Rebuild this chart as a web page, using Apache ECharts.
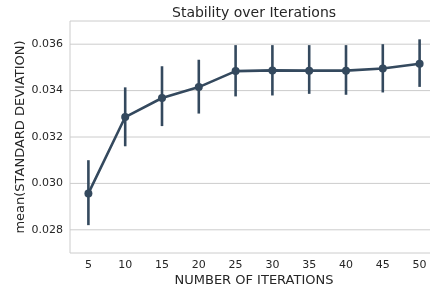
<!DOCTYPE html>
<html style="height: 100%">
    <head>
        <title>Stability over Iterations</title>
        <script type="text/javascript" src="https://fastly.jsdelivr.net/npm/echarts@6.0.0/dist/echarts.min.js"></script>
    </head>
    <body style="height: 100%; margin: 0">
        <div id="target" style="width: 430px; height: 289px"></div>

<script type="text/javascript">
// chart data
let iterations = ["5", "10", "15", "20", "25", "30", "35", "40", "45", "50"];
let meanStd = [0.02957, 0.03286, 0.03368, 0.03415, 0.03484, 0.03487, 0.03486, 0.03486, 0.03495, 0.03516];
let ciLow  = [0.02820, 0.03160, 0.03247, 0.03301, 0.03375, 0.03379, 0.03386, 0.03382, 0.03392, 0.03416];
let ciHigh = [0.03100, 0.03414, 0.03505, 0.03533, 0.03596, 0.03596, 0.03596, 0.03596, 0.03600, 0.03621];
let yTicks = [0.028, 0.030, 0.032, 0.034, 0.036];

let color = "#34495e";
let textColor = "#262626";
let font = "DejaVu Sans";

let chart = echarts.init(document.getElementById('target'));

// error bars as [index, low, high]
let errData = iterations.map((c, i) => [i, ciLow[i], ciHigh[i]]);

let option = {
    animation: false,
    title: {
        text: "Stability over Iterations",
        left: 167,
        top: -6,
        textStyle: {
            fontFamily: font,
            fontSize: 14,
            fontWeight: "normal",
            color: textColor,
        },
    },
    grid: {
        left: 70,
        top: 21,
        right: -8,
        bottom: 36,
        outerBoundsMode: "none",
        containLabel: false,
        show: true,
        borderColor: "#cccccc",
        borderWidth: 1,
    },
    xAxis: {
        type: "category",
        data: iterations,
        name: "NUMBER OF ITERATIONS",
        nameLocation: "middle",
        nameGap: 15,
        nameMoveOverlap: false,
        nameTextStyle: { fontFamily: font, fontSize: 13, color: textColor },
        axisLine: { show: false },
        axisTick: { show: false },
        axisLabel: { fontFamily: font, fontSize: 11, color: textColor, margin: 1 },
        splitLine: { show: false },
    },
    yAxis: {
        type: "value",
        min: 0.027,
        max: 0.037,
        name: "mean(STANDARD DEVIATION)",
        nameLocation: "middle",
        nameGap: 36,
        nameMoveOverlap: false,
        nameTextStyle: { fontFamily: font, fontSize: 13, color: textColor },
        axisLine: { show: false },
        axisTick: { show: false },
        splitLine: { show: false },
        axisLabel: {
            customValues: yTicks,
            fontFamily: font,
            fontSize: 11,
            color: textColor,
            margin: 7,
            formatter: (v) => v.toFixed(3),
        },
    },
    series: [
        {
            // horizontal grid lines at the tick values
            type: "custom",
            data: yTicks.map(v => [0, v]),
            z: 1,
            silent: true,
            renderItem: (params, api) => {
                let cs = params.coordSys;
                let y = api.coord([0, api.value(1)])[1];
                return {
                    type: "line",
                    shape: { x1: cs.x, y1: y, x2: cs.x + cs.width, y2: y },
                    style: { stroke: "#cccccc", lineWidth: 1 },
                };
            },
        },
        {
            type: "custom",
            data: errData,
            z: 3,
            renderItem: (params, api) => {
                let lo = api.coord([api.value(0), api.value(1)]);
                let hi = api.coord([api.value(0), api.value(2)]);
                return {
                    type: "line",
                    shape: { x1: lo[0], y1: lo[1], x2: hi[0], y2: hi[1] },
                    style: { stroke: color, lineWidth: 2.6 },
                };
            },
        },
        {
            type: "line",
            data: meanStd,
            z: 4,
            symbol: "circle",
            symbolSize: 8,
            itemStyle: { color: color },
            lineStyle: { color: color, width: 2.6 },
        },
    ],
};

chart.setOption(option);
</script>
    </body>
</html>
